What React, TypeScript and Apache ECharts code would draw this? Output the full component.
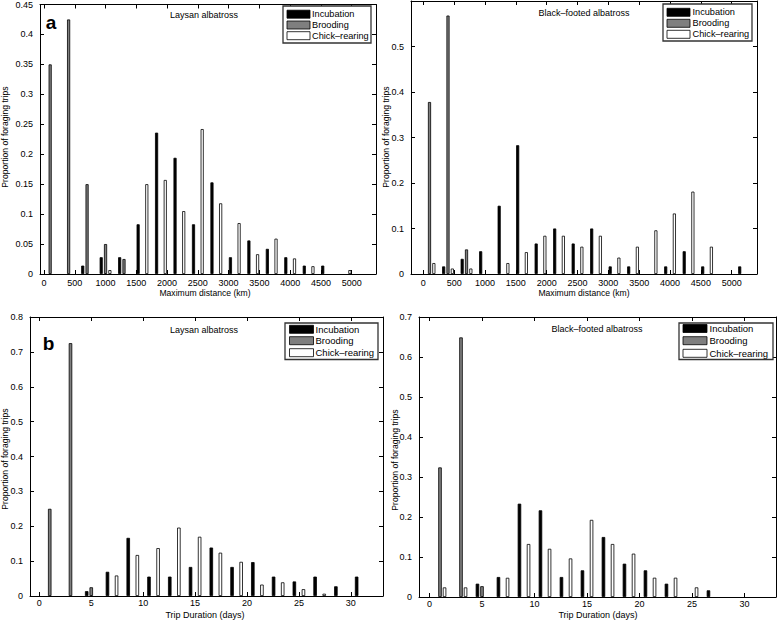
import React, { useEffect, useRef } from "react";
import * as echarts from "echarts";

// ---- data ----
const distCenters = [100, 400, 700, 1000, 1300, 1600, 1900, 2200, 2500, 2800, 3100, 3400, 3700, 4000, 4300, 4600, 4900, 5200];
const distTicks = [0, 500, 1000, 1500, 2000, 2500, 3000, 3500, 4000, 4500, 5000];
const dayCenters = [1, 3, 5, 7, 9, 11, 13, 15, 17, 19, 21, 23, 25, 27, 29, 31];
const dayTicks = [0, 5, 10, 15, 20, 25, 30];

// Laysan, maximum distance
const incLaysanDist = [0, 0, 0.014, 0.028, 0.028, 0.083, 0.236, 0.194, 0.083, 0.153, 0.028, 0.056, 0.042, 0.028, 0.014, 0.014, 0, 0];
const broLaysanDist = [0.35, 0.425, 0.15, 0.05, 0.025, 0, 0, 0, 0, 0, 0, 0, 0, 0, 0, 0, 0, 0];
const chkLaysanDist = [0, 0, 0, 0.0065, 0, 0.15, 0.157, 0.105, 0.242, 0.118, 0.085, 0.033, 0.059, 0.026, 0.013, 0, 0.0065, 0];

// Black-footed, maximum distance
const incBlackDist = [0, 0.0167, 0.0333, 0.05, 0.15, 0.283, 0.067, 0.1, 0.067, 0.1, 0.0167, 0.0167, 0, 0.0167, 0.05, 0.0167, 0, 0.0167];
const broBlackDist = [0.378, 0.568, 0.054, 0, 0, 0, 0, 0, 0, 0, 0, 0, 0, 0, 0, 0, 0, 0];
const chkBlackDist = [0.024, 0.012, 0.012, 0, 0.024, 0.048, 0.084, 0.084, 0.06, 0.084, 0.036, 0.06, 0.096, 0.133, 0.181, 0.06, 0, 0];

// Laysan, trip duration
const incLaysanDays = [0, 0, 0.0139, 0.0694, 0.1667, 0.0556, 0.0556, 0.0833, 0.1389, 0.0833, 0.0972, 0.0556, 0.0417, 0.0556, 0.0278, 0.0556];
const broLaysanDays = [0.25, 0.725, 0.025, 0, 0, 0, 0, 0, 0, 0, 0, 0, 0, 0, 0, 0];
const chkLaysanDays = [0, 0, 0, 0.0588, 0.1176, 0.1373, 0.1961, 0.1699, 0.1242, 0.098, 0.0327, 0.0392, 0.0196, 0.0065, 0, 0];

// Black-footed, trip duration
const incBlackDays = [0, 0, 0.0333, 0.05, 0.2333, 0.2167, 0.05, 0.0667, 0.15, 0.0833, 0.0667, 0.0333, 0, 0.0167, 0, 0];
const broBlackDays = [0.324, 0.649, 0.027, 0, 0, 0, 0, 0, 0, 0, 0, 0, 0, 0, 0, 0];
const chkBlackDays = [0.024, 0.024, 0, 0.048, 0.1325, 0.1205, 0.0964, 0.1928, 0.1325, 0.1084, 0.0482, 0.0482, 0.0241, 0, 0, 0];

const seriesNames = ["Incubation", "Brooding", "Chick\u2013rearing"];
const seriesColors = ["#000000", "#7f7f7f", "#ffffff"];

const FONT = '"Liberation Sans", Arial, Helvetica, sans-serif';

type Panel = {
  grid: { left: number; top: number; width: number; height: number };
  xMin: number; xMax: number; xTicks: number[]; xLabelMargin: number;
  yMax: number; yInterval: number; hideMaxY?: boolean;
  centers: number[]; values: number[][];
  barWidth: number; barGap: string;
};

const panels: Panel[] = [
  { grid: { left: 40, top: 3, width: 336, height: 271 }, xMin: -65, xMax: 5395, xTicks: distTicks, xLabelMargin: 4,
    yMax: 0.45, yInterval: 0.05, centers: distCenters,
    values: [incLaysanDist, broLaysanDist, chkLaysanDist], barWidth: 3.1, barGap: "40%" },
  { grid: { left: 411, top: 1, width: 346, height: 273 }, xMin: -200, xMax: 5410, xTicks: distTicks, xLabelMargin: 4,
    yMax: 0.6, yInterval: 0.1, hideMaxY: true, centers: distCenters,
    values: [incBlackDist, broBlackDist, chkBlackDist], barWidth: 3.1, barGap: "40%" },
  { grid: { left: 30, top: 317, width: 353, height: 279 }, xMin: -0.9, xMax: 33.1, xTicks: dayTicks, xLabelMargin: 2,
    yMax: 0.8, yInterval: 0.1, centers: dayCenters,
    values: [incLaysanDays, broLaysanDays, chkLaysanDays], barWidth: 3.5, barGap: "30%" },
  { grid: { left: 419, top: 317, width: 357, height: 280 }, xMin: -1, xMax: 33, xTicks: dayTicks, xLabelMargin: 2,
    yMax: 0.7, yInterval: 0.1, centers: dayCenters,
    values: [incBlackDays, broBlackDays, chkBlackDays], barWidth: 3.5, barGap: "30%" },
];

const legends = [
  { box: [283, 6, 88, 37], sw: [287, 23], ys: [14.2, 25, 35.7], tx: 312, fs: 9.2 },
  { box: [663, 4, 89, 37], sw: [667, 23], ys: [12.3, 23.3, 34.3], tx: 692.5, fs: 9.2 },
  { box: [285, 323, 93, 36.5], sw: [289.5, 24], ys: [329.3, 340.7, 352.7], tx: 315.5, fs: 9.5 },
  { box: [679, 323, 94, 36.5], sw: [683, 24], ys: [328.5, 340.7, 353.3], tx: 709.5, fs: 9.5 },
];

const titles = [
  { text: "Laysan albatross", x: 204, y: 15 },
  { text: "Black\u2013footed albatross", x: 584, y: 12.5 },
  { text: "Laysan albatross", x: 204, y: 330 },
  { text: "Black\u2013footed albatross", x: 597, y: 329 },
];

const xNames = [
  { text: "Maximum distance (km)", x: 205, y: 293, fs: 8.6 },
  { text: "Maximum distance (km)", x: 584, y: 293, fs: 8.6 },
  { text: "Trip Duration (days)", x: 205, y: 614.5, fs: 9 },
  { text: "Trip Duration (days)", x: 598, y: 614.5, fs: 9 },
];

const yNames = [
  { x: 5, y: 137 },
  { x: 386, y: 137 },
  { x: 5, y: 459 },
  { x: 395, y: 460 },
];

function buildOption() {
  const grid: any[] = [];
  const xAxis: any[] = [];
  const yAxis: any[] = [];
  const series: any[] = [];
  const axisLine = { show: true, onZero: false, lineStyle: { color: "#000", width: 1 } };
  panels.forEach((p, i) => {
    grid.push({ ...p.grid, containLabel: false });
    const tick = { show: true, inside: true, length: 4, lineStyle: { color: "#000", width: 1 } };
    xAxis.push({
      type: "value", gridIndex: i, min: p.xMin, max: p.xMax, position: "bottom",
      axisLine, splitLine: { show: false },
      axisTick: { ...tick, customValues: p.xTicks },
      axisLabel: {
        customValues: p.xTicks, fontSize: 9, color: "#000", fontFamily: FONT, margin: p.xLabelMargin,
        formatter: (v: number) => String(v),
      },
    });
    xAxis.push({
      type: "value", gridIndex: i, min: p.xMin, max: p.xMax, position: "top",
      axisLine, splitLine: { show: false },
      axisTick: { ...tick, customValues: p.xTicks },
      axisLabel: { show: false },
    });
    yAxis.push({
      type: "value", gridIndex: i, min: 0, max: p.yMax, interval: p.yInterval, position: "left",
      axisLine, splitLine: { show: false }, axisTick: tick,
      axisLabel: { fontSize: 9, color: "#000", fontFamily: FONT, margin: 7, showMaxLabel: !p.hideMaxY },
    });
    yAxis.push({
      type: "value", gridIndex: i, min: 0, max: p.yMax, interval: p.yInterval, position: "right",
      axisLine, splitLine: { show: false }, axisTick: tick, axisLabel: { show: false },
    });
    p.values.forEach((vals, s) => {
      series.push({
        type: "bar", name: seriesNames[s], xAxisIndex: 2 * i, yAxisIndex: 2 * i,
        // zero-height bins are left empty (no visible bar)
        data: p.centers.map((c, k) => [c, vals[k] > 0 ? vals[k] : "-"]),
        barWidth: p.barWidth, barGap: p.barGap,
        itemStyle: { color: seriesColors[s], borderColor: "#000", borderWidth: 0.8 },
        silent: true,
      });
    });
  });

  const graphic: any[] = [];
  titles.forEach((t) => graphic.push({
    type: "text", x: t.x, y: t.y, z: 100,
    style: { text: t.text, fontSize: 9, fontFamily: FONT, fill: "#000", align: "center", verticalAlign: "middle" },
  }));
  xNames.forEach((t) => graphic.push({
    type: "text", x: t.x, y: t.y, z: 100,
    style: { text: t.text, fontSize: t.fs, fontFamily: FONT, fill: "#000", align: "center", verticalAlign: "middle" },
  }));
  yNames.forEach((t) => graphic.push({
    type: "text", x: t.x, y: t.y, rotation: Math.PI / 2, z: 100,
    style: { text: "Proportion of foraging trips", fontSize: 8.6, fontFamily: FONT, fill: "#000", align: "center", verticalAlign: "middle" },
  }));
  graphic.push({ type: "text", x: 51, y: 22, z: 100,
    style: { text: "a", fontSize: 19, fontWeight: "bold", fontFamily: FONT, fill: "#000", align: "center", verticalAlign: "middle" } });
  graphic.push({ type: "text", x: 48.5, y: 343, z: 100,
    style: { text: "b", fontSize: 19, fontWeight: "bold", fontFamily: FONT, fill: "#000", align: "center", verticalAlign: "middle" } });
  legends.forEach((l) => {
    graphic.push({ type: "rect", z: 100,
      shape: { x: l.box[0], y: l.box[1], width: l.box[2], height: l.box[3] },
      style: { fill: "#fff", stroke: "#333", lineWidth: 1.3 } });
    l.ys.forEach((y, s) => {
      graphic.push({ type: "rect", z: 101,
        shape: { x: l.sw[0], y: y - 4, width: l.sw[1], height: 8 },
        style: { fill: seriesColors[s], stroke: "#000", lineWidth: 0.8 } });
      graphic.push({ type: "text", x: l.tx, y, z: 101,
        style: { text: seriesNames[s], fontSize: l.fs, fontFamily: FONT, fill: "#000", align: "left", verticalAlign: "middle" } });
    });
  });

  return { animation: false, backgroundColor: "#fff", grid, xAxis, yAxis, series, graphic };
}

export default function App() {
  const ref = useRef<HTMLDivElement>(null);
  useEffect(() => {
    if (!ref.current) return;
    const chart = echarts.init(ref.current, undefined, { renderer: "svg" });
    chart.setOption(buildOption() as any);
    return () => chart.dispose();
  }, []);
  return (
    <div
      ref={ref}
      style={{ position: "absolute", left: 0, top: 0, width: 779, height: 623, background: "#fff" }}
    />
  );
}
